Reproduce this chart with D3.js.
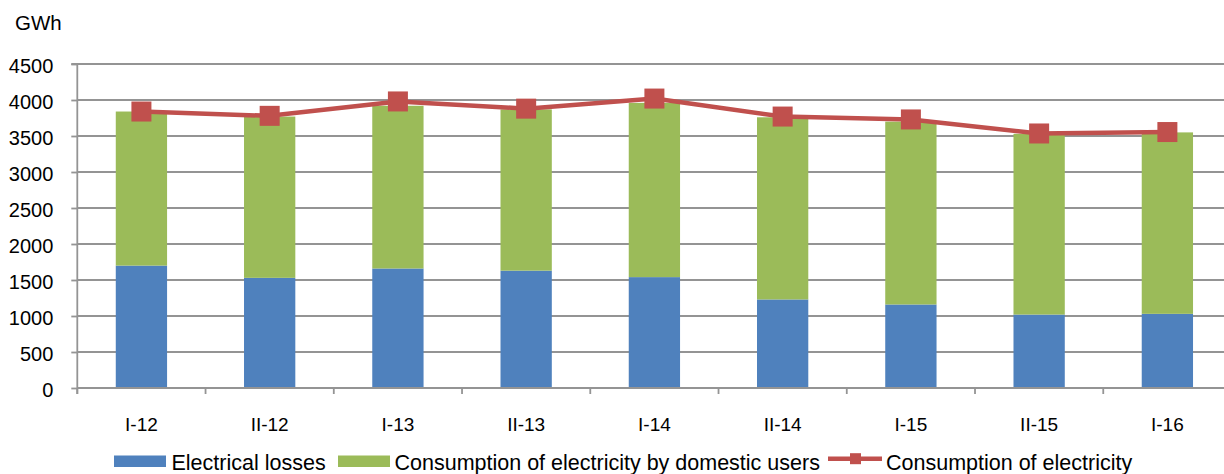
<!DOCTYPE html>
<html>
<head>
<meta charset="utf-8">
<script src="https://cdn.jsdelivr.net/npm/d3@7"></script>
<style>
  html, body { margin: 0; padding: 0; background: #fff; }
  svg { display: block; font-family: "Liberation Sans", Arial, sans-serif; }
</style>
</head>
<body>
<svg id="chart" width="1224" height="474"></svg>
<script>
// ---- Data ----
const categories = ["I-12", "II-12", "I-13", "II-13", "I-14", "II-14", "I-15", "II-15", "I-16"];
const losses     = [1700, 1530, 1660, 1630, 1540, 1230, 1160, 1020, 1030];
const domestic   = [2140, 2240, 2260, 2240, 2420, 2530, 2540, 2510, 2520];
const total      = [3840, 3780, 3980, 3880, 4020, 3770, 3730, 3535, 3555];
const yTicks     = [0, 500, 1000, 1500, 2000, 2500, 3000, 3500, 4000, 4500];
const seriesNames = ["Electrical losses", "Consumption of electricity by domestic users", "Consumption of electricity"];
const unitLabel = "GWh";

(function () {
const colors = { losses: "#4F81BD", domestic: "#9BBB59", total: "#C0504D", grid: "#949494", text: "#000" };

const svg = d3.select("#chart");
const W = 1224;
const pLeft = 77.3, pRight = 1231.5, pTop = 64, pBottom = 388;

const x = d3.scaleBand().domain(categories).range([pLeft, pRight]).paddingInner(0.6).paddingOuter(0.3);
const xEdge = d3.scaleBand().domain(categories).range([pLeft, pRight]).padding(0);
const y = d3.scaleLinear().domain([0, 4500]).range([pBottom, pTop]);

// gridlines
svg.append("g").selectAll("line").data(yTicks.filter(t => t > 0)).join("line")
  .attr("x1", pLeft).attr("x2", W)
  .attr("y1", d => y(d)).attr("y2", d => y(d))
  .attr("stroke", colors.grid).attr("stroke-width", 1.8);

// y axis
const yAxis = svg.append("g").attr("transform", `translate(${pLeft},0)`)
  .call(d3.axisLeft(y).tickValues(yTicks).tickSize(6).tickPadding(18).tickFormat(d3.format("d")));
yAxis.select(".domain").attr("stroke", colors.grid).attr("stroke-width", 1.8).attr("d", `M-6,${pTop}H0V${pBottom + 6}`);
yAxis.selectAll(".tick line").attr("stroke", colors.grid).attr("stroke-width", 1.8);
yAxis.selectAll(".tick text").attr("font-size", 20).attr("fill", colors.text).attr("dy", "0.43em")
  .attr("font-family", "Liberation Sans, Arial, sans-serif");

// stacked bars
const stackData = categories.map((c, i) => ({ cat: c, losses: losses[i], domestic: domestic[i] }));
const stack = d3.stack().keys(["losses", "domestic"])(stackData);
svg.append("g").selectAll("g").data(stack).join("g")
  .attr("fill", d => colors[d.key])
  .selectAll("rect").data(d => d).join("rect")
  .attr("x", d => x(d.data.cat))
  .attr("width", x.bandwidth())
  .attr("y", d => y(d[1]))
  .attr("height", d => y(d[0]) - y(d[1]));

// x axis
svg.append("line").attr("x1", pLeft).attr("x2", W).attr("y1", pBottom).attr("y2", pBottom)
  .attr("stroke", colors.grid).attr("stroke-width", 1.8);
svg.append("g").selectAll("line").data(categories).join("line")
  .attr("x1", d => xEdge(d)).attr("x2", d => xEdge(d))
  .attr("y1", pBottom).attr("y2", pBottom + 6)
  .attr("stroke", colors.grid).attr("stroke-width", 1.8);
const xAxis = svg.append("g").attr("transform", `translate(0,${pBottom})`)
  .call(d3.axisBottom(x).tickSize(0));
xAxis.select(".domain").remove();
xAxis.selectAll(".tick text").attr("font-size", 19).attr("fill", colors.text)
  .attr("y", 43).attr("dy", 0).attr("font-family", "Liberation Sans, Arial, sans-serif");

// line
const cx = c => x(c) + x.bandwidth() / 2;
svg.append("path").datum(total)
  .attr("fill", "none").attr("stroke", colors.total).attr("stroke-width", 4.5)
  .attr("stroke-linejoin", "round")
  .attr("d", d3.line().x((d, i) => cx(categories[i])).y(d => y(d)));
svg.append("g").selectAll("rect").data(total).join("rect")
  .attr("x", (d, i) => cx(categories[i]) - 10).attr("y", d => y(d) - 10)
  .attr("width", 20).attr("height", 20).attr("fill", colors.total);

// unit label
svg.append("text").attr("x", 15).attr("y", 29.5).attr("font-size", 20.5).attr("fill", colors.text).text(unitLabel);

// legend
const lg = svg.append("g").attr("font-size", 21.5);
lg.append("rect").attr("x", 114).attr("y", 455.5).attr("width", 52).attr("height", 11.5).attr("fill", colors.losses);
lg.append("text").attr("x", 171.5).attr("y", 470).text(seriesNames[0]);
lg.append("rect").attr("x", 338).attr("y", 455.5).attr("width", 52).attr("height", 11.5).attr("fill", colors.domestic);
lg.append("text").attr("x", 394.5).attr("y", 470).text(seriesNames[1]);
lg.append("line").attr("x1", 828).attr("x2", 882).attr("y1", 458.7).attr("y2", 458.7)
  .attr("stroke", colors.total).attr("stroke-width", 4.5);
lg.append("rect").attr("x", 850).attr("y", 453.2).attr("width", 11).attr("height", 11).attr("fill", colors.total);
lg.append("text").attr("x", 886).attr("y", 470).text(seriesNames[2]);
})();
</script>
</body>
</html>
